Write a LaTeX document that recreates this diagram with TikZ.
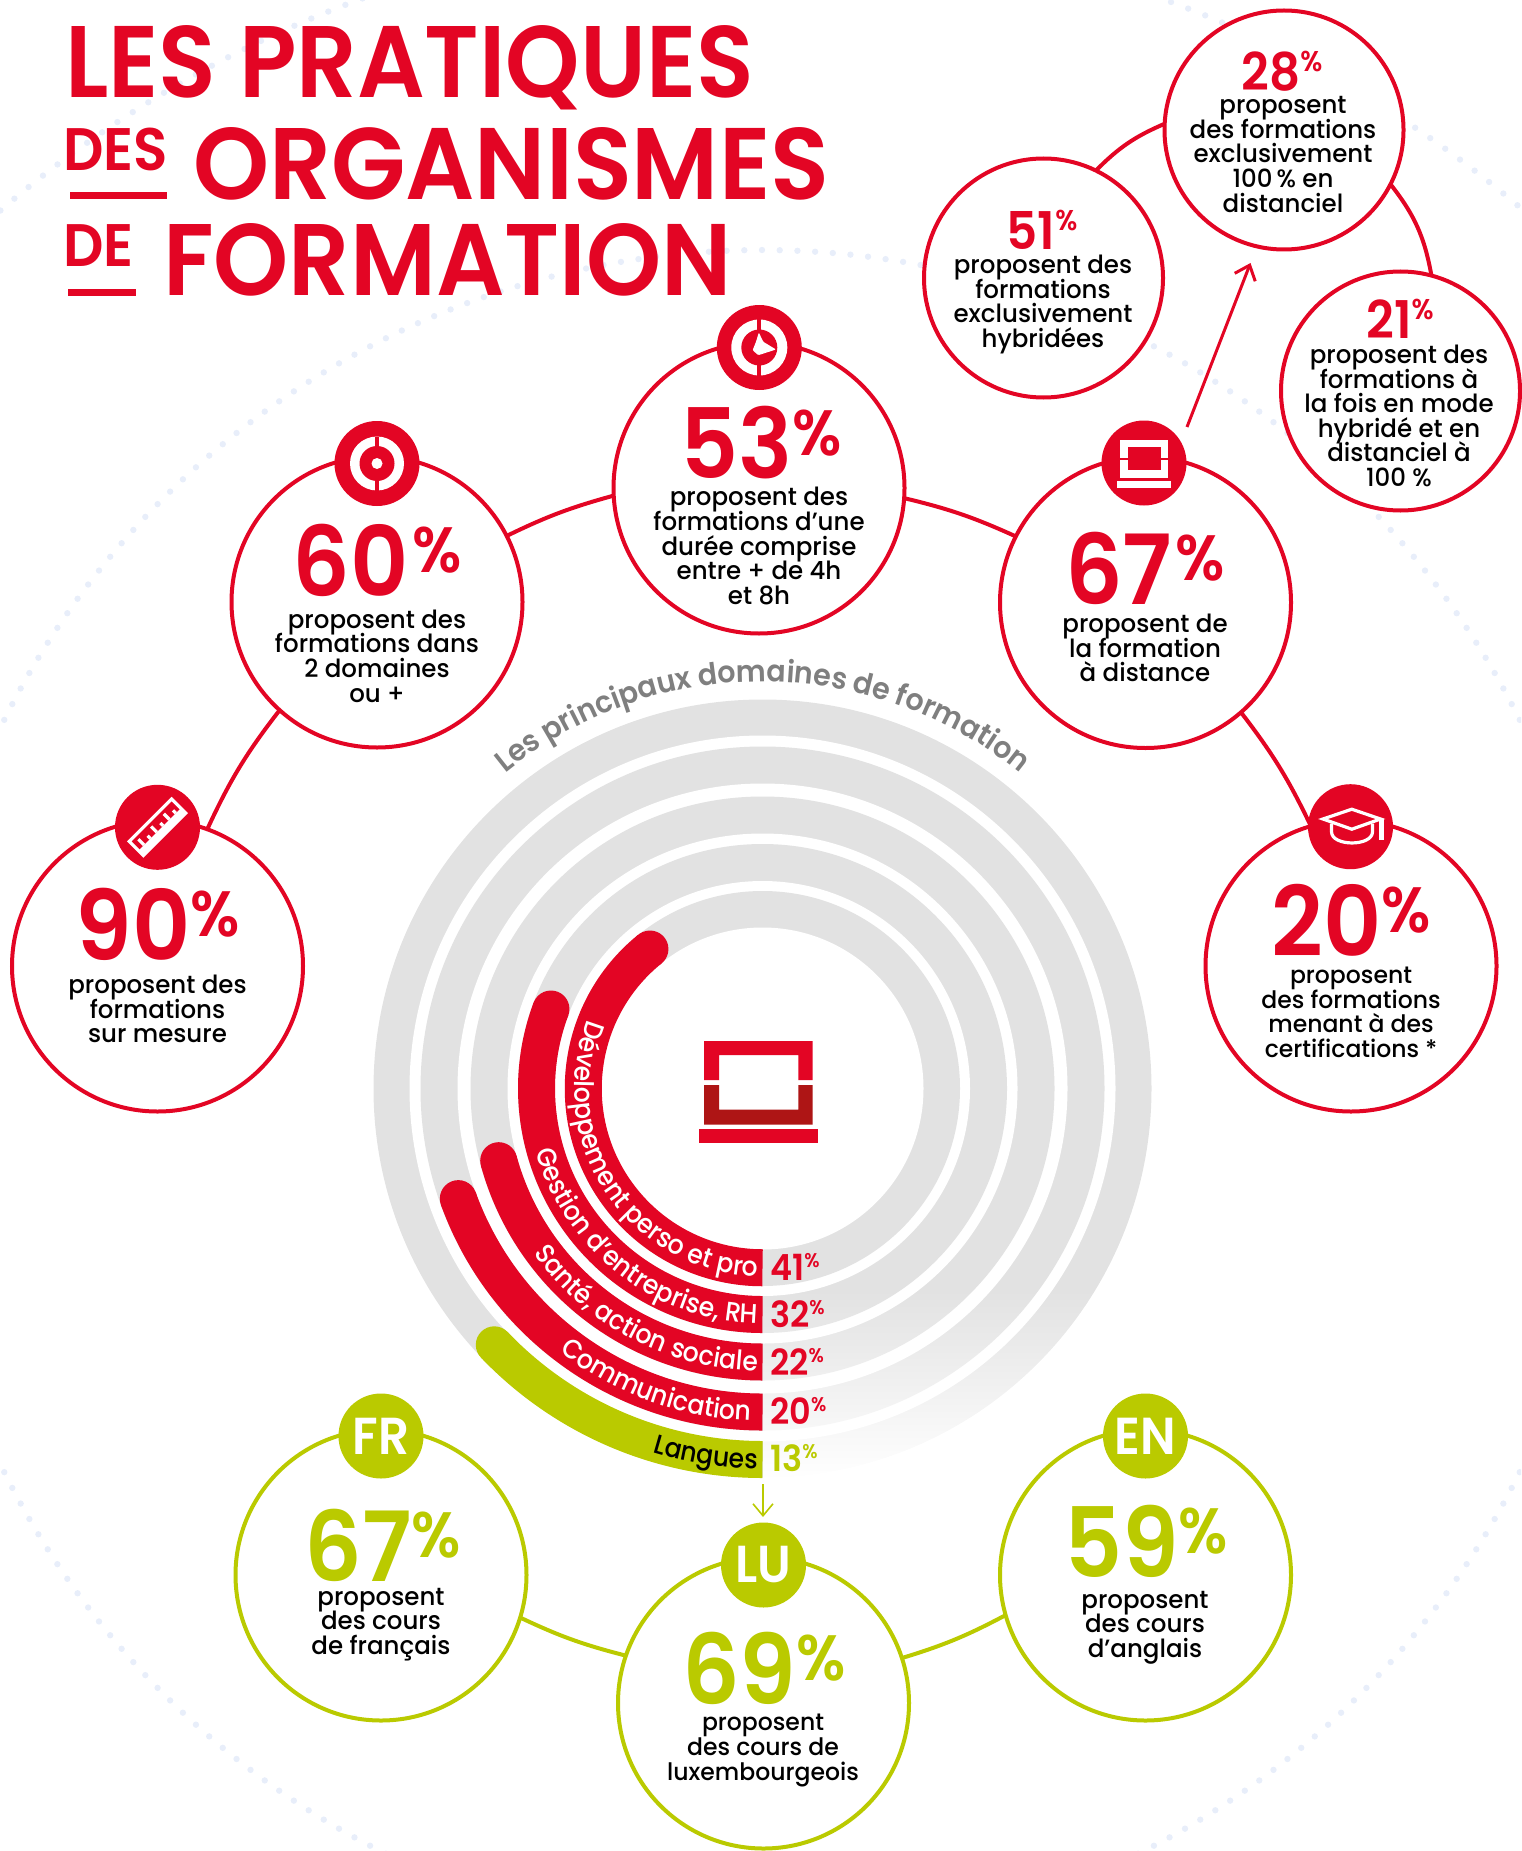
\documentclass[tikz,border=0pt]{standalone}
\usepackage{fontspec}
\usetikzlibrary{arrows.meta,decorations.text,shapes.geometric}
\setmainfont{Poppins}
\newfontfamily\titlef{Poppins}[UprightFont=*-SemiBold,FakeStretch=0.94]
\newfontfamily\titlefa{Poppins}[UprightFont=*-SemiBold,FakeStretch=0.93]
\newfontfamily\titlefb{Poppins}[UprightFont=*-SemiBold,FakeStretch=0.952]
\newfontfamily\numf{Poppins}[UprightFont=*-SemiBold,FakeStretch=0.93]
\newfontfamily\bodyf{Poppins}[UprightFont=*-Medium,FakeStretch=0.98]
\newfontfamily\barf{Poppins}[UprightFont=*-Medium,FakeStretch=0.93]
\newfontfamily\grayf{Poppins}[UprightFont=*-SemiBold,FakeStretch=0.95]
\lineskiplimit=-1000pt
\definecolor{redc}{HTML}{E30524}
\definecolor{darkredc}{HTML}{AE1515}
\definecolor{greenc}{HTML}{BACA00}
\definecolor{ringc}{HTML}{E2E2E2}
\definecolor{dotc}{HTML}{E8EEFA}
\definecolor{grayt}{HTML}{7F7F7F}
\newcommand{\pct}[2]{{\numf\fontsize{#2pt}{#2pt}\selectfont #1\raisebox{.24em}{\fontsize{\fpeval{#2*.66}pt}{#2pt}\selectfont\%}}}
\newcommand{\pcts}[2]{{\numf\fontsize{#2pt}{#2pt}\selectfont #1\raisebox{.37em}{\fontsize{\fpeval{#2*.55}pt}{#2pt}\selectfont\%}}}
\newcommand{\ttl}[2]{{\titlef\fontsize{#2pt}{#2pt}\selectfont #1}}
\newcommand{\barband}[6]{%
  \draw[line width=37pt,#1] ([shift={(#3:#2pt)}]C) arc[start angle=#3,end angle=270,radius=#2pt];
  \fill[#1] ([shift={(#3:#2pt)}]C) circle[radius=18.5pt];
  \path[decorate,decoration={text along path,text color=#4,text={|\barf\fontsize{27pt}{27pt}\selectfont|#5},text align={align=right,right indent=5pt}}]
    ([shift={(#3:#6pt)}]C) arc[start angle=#3,end angle=270,radius=#6pt];
}
\tikzset{
  ringred/.style={circle,draw=redc,fill=white,line width=4pt,inner sep=0pt,outer sep=0pt,minimum size=#1},
  ringgreen/.style={circle,draw=greenc,fill=white,line width=4pt,inner sep=0pt,outer sep=0pt,minimum size=#1},
  iconred/.style={circle,fill=redc,inner sep=0pt,outer sep=0pt,minimum size=85pt},
  icongreen/.style={circle,fill=greenc,inner sep=0pt,outer sep=0pt,minimum size=85pt,text=white,font=\numf\fontsize{52pt}{52pt}\selectfont},
  linkred/.style={draw=redc,line width=4pt},
  linkgreen/.style={draw=greenc,line width=4pt},
  body/.style={inner sep=0pt,align=center,text=black,font=\bodyf\fontsize{25pt}{24.6pt}\selectfont},
  bodysmall/.style={inner sep=0pt,align=center,text=black,font=\bodyf\fontsize{24pt}{24.6pt}\selectfont},
  numr/.style={inner sep=0pt,text=redc},
  numg/.style={inner sep=0pt,text=greenc},
  titletext/.style={inner sep=0pt,anchor=base west,text=redc},
  pctlab/.style={inner sep=0pt,anchor=west},
}
\begin{document}
\begin{tikzpicture}[x=1pt,y=-1pt]
\useasboundingbox (0,0) rectangle (1521,1851);
\coordinate (C) at (762.5,1088.5);
\coordinate (D) at (762,1096);
% background dots
\begin{scope}
\clip (0,0) rectangle (1521,1851);
\foreach \a in {0,1.2,...,359} {\fill[dotc] ([shift={(\a:846pt)}]D) circle[radius=3.2pt];}
\foreach \a in {20,20.9,...,160} {\fill[dotc] ([shift={(\a:1168pt)}]D) circle[radius=3.2pt];}
\end{scope}
% gray rings, outermost first
\foreach \ri/\ro in {353/389,305/342,255/292,207.5/244.5,161/197.5}{
  \begin{scope}
  \clip (C) circle[radius=\ro pt];
  \fill[white] (360,680) rectangle (1160,1500);
  \fill[ringc] (360,680) rectangle (763,1500);
  \fill[ringc] (763,680) rectangle (1160,1290);
  \shade[top color=ringc,bottom color=white] (763,1290) rectangle (1160,1480);
  \end{scope}
  \fill[white] (C) circle[radius=\ri pt];
}
% bars
\barband{greenc}{371}{223.7}{black}{Langues}{380}
\barband{redc}{323.5}{199.9}{white}{Communication\ }{332.5}
\barband{redc}{273.5}{195.3}{white}{Santé, action sociale}{282.5}
\barband{redc}{226}{159.4}{white}{Gestion d’entreprise, RH}{235}
\barband{redc}{179.25}{128.9}{white}{Développement perso et pro}{188}
% percentages on bars
\node[pctlab,text=redc] (p41) at (770,1267) {\pcts{41}{36}};
\node[pctlab,text=redc] (p32) at (770,1314) {\pcts{32}{36}};
\node[pctlab,text=redc] (p22) at (770,1362) {\pcts{22}{36}};
\node[pctlab,text=redc] (p20) at (770,1411) {\pcts{20}{36}};
\node[pctlab,text=greenc] (p13) at (770,1458) {\pcts{13}{36}};
% gray arc title
\path[decorate,decoration={text along path,text color=grayt,text={|\grayf\fontsize{30pt}{30pt}\selectfont|Les principaux domaines de formation},text align=center}]
  ([shift={(140:407pt)}]C) arc[start angle=140,end angle=40,radius=407pt];
% centre laptop
\fill[redc] (704,1041) -- (812.7,1041) -- (812.7,1080) -- (798.3,1080) -- (798.3,1055) -- (719,1055) -- (719,1080) -- (704,1080) -- cycle;
\fill[darkredc] (704,1085) -- (719,1085) -- (719,1109.5) -- (798.3,1109.5) -- (798.3,1085) -- (812.7,1085) -- (812.7,1124.5) -- (704,1124.5) -- cycle;
\fill[redc] (699,1128.5) rectangle (818,1143);
% title
\node[titletext] (t1) at (65,98) {{\titlefa\fontsize{101.7pt}{101.7pt}\selectfont LES PRATIQUES}};
\node[titletext] (t2) at (63,171) {\ttl{DES}{60}};
\node[titletext] (t3) at (193,200) {{\titlefb\fontsize{101.7pt}{101.7pt}\selectfont ORGANISMES}};
\node[titletext] (t4) at (63,267) {\ttl{DE}{60}};
\node[titletext] (t5) at (163,296) {\ttl{FORMATION}{101.7}};
\fill[redc] (70,192) rectangle (167,199);
\fill[redc] (68,289) rectangle (135.5,296);
% circles
\node[ringred=291pt] (c90) at (157.5,966) {};
\node[ringred=291pt] (c60) at (377,602) {};
\node[ringred=291pt] (c53) at (759,488) {};
\node[ringred=291pt] (c67) at (1145.5,602.5) {};
\node[ringred=291pt] (c20) at (1351,966) {};
\node[ringred=239pt] (c51) at (1043.5,278) {};
\node[ringred=239pt] (c28) at (1284,130) {};
\node[ringred=239pt] (c21) at (1400.5,391) {};
\node[ringgreen=291pt] (cFR) at (381,1575) {};
\node[ringgreen=291pt] (cEN) at (1145.5,1575) {};
\node[ringgreen=291pt] (cLU) at (763.5,1703) {};
% connectors
\draw[linkred] (c90.70.8) to[bend left=6.5] (c60.228.6);
\draw[linkred] (c60.27.8) to[bend left=5.3] (c53.183.6);
\draw[linkred] (c53.356.5) to[bend left=5.5] (c67.153.3);
\draw[linkred] (c67.311.1) to[bend left=6] (c20.106.7);
\draw[linkred] (c51.64.5) to[bend left=11] (c28.177);
\draw[linkred] (c28.333.2) to[bend left=14] (c21.75.4);
\draw[linkgreen] (cFR.343.5) to[bend right=5.5] (cLU.161.2);
\draw[linkgreen] (cLU.18.6) to[bend right=5.5] (cEN.196.9);
\coordinate (arrA) at (1187,427);
\coordinate (arrB) at (1250.5,263);
\draw[redc,line width=3pt,-{Straight Barb[length=13pt,width=22pt,line width=3pt]}] (arrA) -- (arrB);
\coordinate (arrC) at (763,1484);
\coordinate (arrD) at (763,1517);
\draw[greenc,line width=1.6pt,-{Straight Barb[length=12pt,width=20pt,line width=1.6pt]}] (arrC) -- (arrD);
% icons
\node[iconred] (i90) at (157.5,827.3) {};
\node[iconred] (i60) at (377,463.5) {};
\node[iconred] (i53) at (759.3,347.5) {};
\node[iconred] (i67) at (1144,463) {};
\node[iconred] (i20) at (1350.5,826.7) {};
\node[icongreen] (iFR) at (381,1436) {FR};
\node[icongreen] (iEN) at (1145.5,1436) {EN};
\node[icongreen] (iLU) at (763.5,1565) {LU};
% target icon
\begin{scope}[shift={(i60.center)}]
  \fill[white] (0,0) circle[radius=27pt];
  \fill[redc] (-2,-27) rectangle (2,27);
  \fill[redc] (0,0) circle[radius=17.5pt];
  \fill[white] (0,0) circle[radius=5.5pt];
\end{scope}
% clock icon
\begin{scope}[shift={(i53.center)}]
  \fill[white] (0,0) circle[radius=28pt];
  \fill[redc] (-2,-28) rectangle (2,28);
  \fill[redc] (0,0) circle[radius=18pt];
  \fill[white,rounded corners=1pt] (-0.5,-15) -- (4,-5.7) -- (16.7,2) -- (-1,7.7) -- (-6.7,2.7) -- (-3.3,-5.7) -- cycle;
\end{scope}
% small laptop icon
\begin{scope}[shift={(i67.center)}]
  \fill[white] (-24,-22.7) rectangle (24,15);
  \fill[redc] (-16.3,-16) rectangle (17.3,7.3);
  \fill[redc] (-24,-5.5) rectangle (24,-3.5);
  \fill[white] (-27,17.7) rectangle (27,25);
\end{scope}
% mortarboard icon
\begin{scope}[shift={(i20.center)}]
  \draw[white,line width=3.2pt,line join=miter] (1.3,-17.5) -- (30,-7.7) -- (1.3,2.5) -- (-27.5,-7.7) -- cycle;
  \draw[white,line width=3.2pt] (-19,-3) -- (-19,5) .. controls (-19,20) and (22,20) .. (22,5) -- (22,-3);
  \fill[white] (28,-8) rectangle (33,13);
\end{scope}
% ruler icon
\begin{scope}[shift={(i90.center)},rotate=45]
  \draw[white,line width=3.2pt] (-30,-10) rectangle (30,10);
  \fill[white] (-30,3) rectangle (30,10);
  \foreach \xx/\hh in {-22/8,-13/4,-4/8,5/4,14/8,23/4}{\fill[white] (\xx-1.6,3) rectangle (\xx+1.6,3-\hh);}
\end{scope}
% numbers
\node[numr] (n53) at (761,443) {\pct{53}{97}};
\node[numr] (n60) at (377,560) {\pct{60\kern4pt}{97}};
\node[numr] (n67) at (1145,568) {\pct{67\kern3pt}{97}};
\node[numr] (n90) at (158,924) {\pct{90}{97}};
\node[numr] (n20) at (1351,920) {\pct{20}{97}};
\node[numr] (n28) at (1282,71) {\pcts{28}{52}};
\node[numr] (n51) at (1042,230) {\pcts{51}{52}};
\node[numr] (n21) at (1400,319) {\pcts{21}{52}};
\node[numg] (nFR) at (383,1545) {\pct{67}{97}};
\node[numg] (nEN) at (1146,1541) {\pct{59}{97}};
\node[numg] (nLU) at (764,1668) {\pct{69}{97}};
% body text
\node[body] (b53) at (759,546) {proposent des\\formations d’une\\durée comprise\\entre + de 4h\\et 8h};
\node[body] (b60) at (377,656) {proposent des\\formations dans\\2 domaines\\ou +};
\node[body] (b67) at (1145,648) {proposent de\\la formation\\à distance};
\node[body] (b90) at (157.5,1009) {proposent des\\formations\\sur mesure};
\node[bodysmall] (b20) at (1351,1012.5) {proposent\\des formations\\menant à des\\certifications *};
\node[body] (b51) at (1043,304.4) {proposent des\\formations\\exclusivement\\hybridées};
\node[body] (b28) at (1283,154.5) {proposent\\des formations\\exclusivement\\100\,\% en\\distanciel};
\node[body] (b21) at (1399,416) {proposent des\\formations à\\la fois en mode\\hybridé et en\\distanciel à\\100 \%};
\node[body] (bFR) at (381,1624.4) {proposent\\des cours\\de français};
\node[body] (bEN) at (1145,1627.4) {proposent\\des cours\\d’anglais};
\node[bodysmall] (bLU) at (763,1750.4) {proposent\\des cours de\\luxembourgeois};
\end{tikzpicture}
\end{document}
